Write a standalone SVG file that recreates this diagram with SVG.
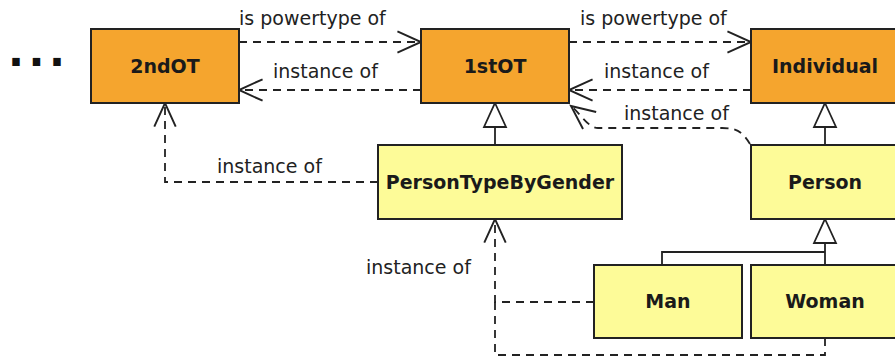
<svg xmlns="http://www.w3.org/2000/svg" width="895" height="357" viewBox="0 0 895 357">
<style>
.box{stroke:#222;stroke-width:2}
.ot{fill:#F5A52E}
.cls{fill:#FDFB98}
.name{font-family:"DejaVu Sans",sans-serif;font-weight:bold;font-size:19px;fill:#1a1a1a;text-anchor:middle}
.lbl{font-family:"DejaVu Sans",sans-serif;font-size:19px;fill:#222}
.dep{fill:none;stroke:#222;stroke-width:1.8;stroke-dasharray:8,6}
.gen{fill:none;stroke:#222;stroke-width:1.8}
.tri{fill:#fff;stroke:#222;stroke-width:1.8}
</style>
<defs>
<marker id="open" markerUnits="userSpaceOnUse" markerWidth="30" markerHeight="30" viewBox="-25 -13 28 26" refX="0" refY="0" orient="auto">
<path d="M-22,-10 L0,0 L-22,10" fill="none" stroke="#222" stroke-width="1.8" stroke-dasharray="none"/>
</marker>
</defs>
<text x="8" y="66" font-family="DejaVu Sans, sans-serif" font-weight="bold" font-size="42" letter-spacing="4.5" fill="#111">...</text>
<g id="connectors">
<path class="dep" d="M239,42 L421,42" marker-end="url(#open)"/>
<path class="dep" d="M421,90 L239,90" marker-end="url(#open)"/>
<path class="dep" d="M569,42 L751,42" marker-end="url(#open)"/>
<path class="dep" d="M751,90 L569,90" marker-end="url(#open)"/>
<path class="dep" d="M750,144 C742,131 736,128 722,128 L598,128 C588,128 580,113 571,106" marker-end="url(#open)"/>
<path class="dep" d="M378,182 L165,182 L165,103" marker-end="url(#open)"/>
<path class="dep" d="M594,302 L495,302 L495,219" marker-end="url(#open)"/>
<path class="dep" d="M825,338 L825,355 L495,355 L495,302"/>
<path class="gen" d="M495,145 L495,127"/>
<path class="tri" d="M495,103 L506,127 L484,127 Z"/>
<path class="gen" d="M825,145 L825,127"/>
<path class="tri" d="M825,103 L836,127 L814,127 Z"/>
<path class="gen" d="M662,265 L662,252 L825,252 M825,265 L825,243"/>
<path class="tri" d="M825,219 L836,243 L814,243 Z"/>
<text class="lbl" x="239" y="25">is powertype of</text>
<text class="lbl" x="273" y="78">instance of</text>
<text class="lbl" x="580" y="25">is powertype of</text>
<text class="lbl" x="604" y="78">instance of</text>
<text class="lbl" x="624" y="120">instance of</text>
<text class="lbl" x="217" y="173">instance of</text>
<text class="lbl" x="366" y="274">instance of</text>
</g>
<g id="n2ndOT"><rect class="box ot" x="91" y="29" width="148" height="74"/><text class="name" x="165" y="73">2ndOT</text></g>
<g id="n1stOT"><rect class="box ot" x="421" y="29" width="148" height="74"/><text class="name" x="495" y="73">1stOT</text></g>
<g id="nIndividual"><rect class="box ot" x="751" y="29" width="148" height="74"/><text class="name" x="825" y="73">Individual</text></g>
<g id="nPTBG"><rect class="box cls" x="378" y="145" width="244" height="74"/><text class="name" x="500" y="189">PersonTypeByGender</text></g>
<g id="nPerson"><rect class="box cls" x="751" y="145" width="148" height="74"/><text class="name" x="825" y="189">Person</text></g>
<g id="nMan"><rect class="box cls" x="594" y="265" width="148" height="73"/><text class="name" x="668" y="308">Man</text></g>
<g id="nWoman"><rect class="box cls" x="751" y="265" width="148" height="73"/><text class="name" x="825" y="308">Woman</text></g>
</svg>
